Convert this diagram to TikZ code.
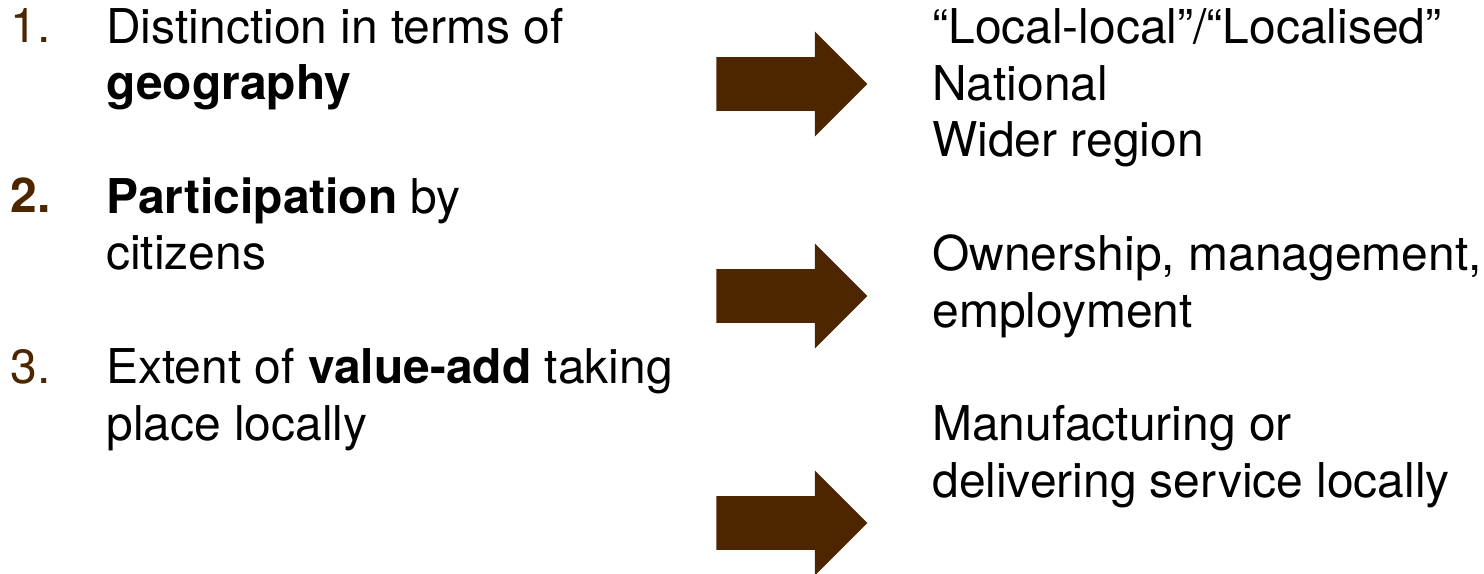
\documentclass[tikz,border=0pt]{standalone}
\usepackage{fontspec}
\setmainfont{TeX Gyre Heros}
\usepackage{tikz}
\usetikzlibrary{positioning,shapes,arrows}
\definecolor{darkbrown}{RGB}{77,38,0}

\begin{document}
\begin{tikzpicture}[
  x=0.02cm, y=-0.02cm,
  numtext/.style={anchor=base west,inner sep=0,text=darkbrown,font=\fontsize{27.3}{32.4}\selectfont},
  itemtext/.style={anchor=base west,inner sep=0,align=left,font=\fontsize{27.3}{32.4}\selectfont},
  bigarrow/.style={single arrow,fill=darkbrown,draw=none,anchor=tail,inner xsep=0,inner ysep=0.53cm,
    single arrow head extend=0.51cm,single arrow tip angle=90,minimum height=3.02cm},
 ]
\useasboundingbox (0,0) rectangle (1484,574);

% left column (base of a text block = baseline of its last line)
\node[numtext] (N1) at (10,43) {1.};
\node[itemtext] (T1) at (106,100) {Distinction in terms of\\\textbf{geography}};
\node[numtext] (N2) at (10,213) {\textbf{2.}};
\node[itemtext] (T2) at (106,270) {\textbf{Participation} by\\citizens};
\node[numtext] (N3) at (10,383) {3.};
\node[itemtext] (T3) at (106,440) {Extent of \textbf{value-add} taking\\place locally};

% arrows
\node[bigarrow] (A1) at (716,84) {};
\node[bigarrow] (A2) at (716,296) {};
\node[bigarrow] (A3) at (716,523) {};

% right column
\node[itemtext] (R1) at (932,157) {“Local-local”/“Localised”\\National\\Wider region};
\node[itemtext] (R2) at (932,327) {Ownership, management,\\employment};
\node[itemtext] (R3) at (932,497) {Manufacturing or\\delivering service locally};

\end{tikzpicture}
\end{document}
